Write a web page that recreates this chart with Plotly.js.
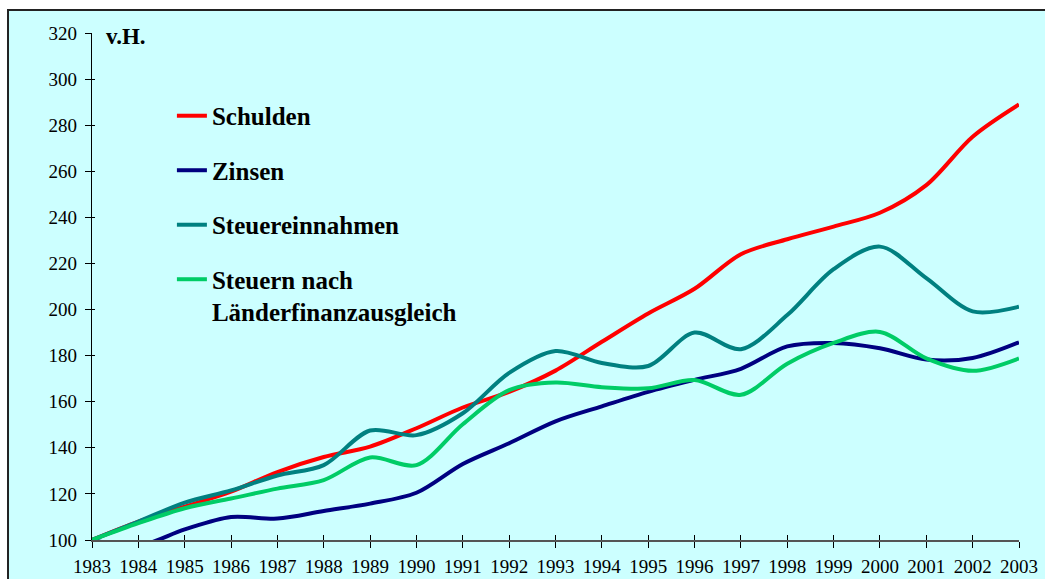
<!DOCTYPE html>
<html>
<head>
<meta charset="utf-8">
<script src="https://cdn.plot.ly/plotly-3.0.1.min.js"></script>
<style>html,body{margin:0;padding:0;background:#fff;}#chart{width:1045px;height:579px;}</style>
</head>
<body>
<div id="chart"></div>
<script>
const years = [1983,1984,1985,1986,1987,1988,1989,1990,1991,1992,1993,1994,1995,1996,1997,1998,1999,2000,2001,2002,2003];
const schulden = [100,108,114.5,121,129.5,136,140.5,148.5,157.5,164.3,173.5,186,198.3,209,224,230.5,236,242,254,275,289];
const zinsen = [100,97.5,104.6,110,109.3,112.6,115.8,120.5,133,142,151.5,158,164.3,169.5,174.3,184,185.5,183.2,178.3,179,185.8];
const steuereinnahmen = [100,108,116.2,121.5,128,132.5,147.5,145.5,155,172.5,182,176.8,175.5,190,182.8,197.6,217.5,227.3,213.6,199.2,201.2];
const steuernLFA = [100,107.3,113.8,118,122.3,126,135.8,132.5,150.2,165,168.3,166.3,165.8,169.4,163,176.5,185.5,190.3,178.8,173.4,178.8];
const names = ['Schulden','Zinsen','Steuereinnahmen','Steuern nach<br>Länderfinanzausgleich'];
const colors = ['#FF0000','#000080','#008080','#00CC66'];
const yTicks = [100,120,140,160,180,200,220,240,260,280,300,320];

const series = [schulden, zinsen, steuereinnahmen, steuernLFA];
const traces = series.map((s,i)=>({
  x: years, y: s, type:'scatter', mode:'lines', name: names[i],
  legendgroup: 'g'+i,
  line:{color:colors[i], width:4, shape:'spline', smoothing:0.9}
}));
// invisible trace to show the inner half of the crossing tick marks
traces.push({x:[years[0]], y:[yTicks[0]], xaxis:'x2', yaxis:'y2', mode:'markers', marker:{opacity:0}, showlegend:false, hoverinfo:'skip'});

const font = {family:'"Liberation Serif", "Times New Roman", serif', color:'#000'};
const layout = {
  width:1045, height:579,
  margin:{l:92, r:26, t:33, b:39},
  paper_bgcolor:'#FFFFFF',
  plot_bgcolor:'rgba(0,0,0,0)',
  font: Object.assign({size:19}, font),
  showlegend:true,
  legend:{
    x:0.0862, y:0.8817, xanchor:'left', yanchor:'top',
    bgcolor:'rgba(0,0,0,0)',
    font:Object.assign({size:25, weight:'bold'}, font),
    tracegroupgap:19, traceorder:'grouped', valign:'top',
    itemwidth:30
  },
  xaxis:{
    range:[1983,2003], tickmode:'array', tickvals:years, ticktext:years.map(String),
    showgrid:false, zeroline:false, showline:true, linecolor:'#555555', linewidth:1.5,
    ticks:'outside', ticklen:6, tickcolor:'#000', tickwidth:1, ticklabelstandoff:3,
    tickfont:Object.assign({size:19}, font), fixedrange:true
  },
  yaxis:{
    range:[100,320], tickmode:'array', tickvals:yTicks,
    showgrid:false, zeroline:false, showline:true, linecolor:'#000', linewidth:1.2,
    ticks:'outside', ticklen:6, tickcolor:'#000', tickwidth:1, ticklabelstandoff:4,
    tickfont:Object.assign({size:19}, font), fixedrange:true
  },
  xaxis2:{overlaying:'x', range:[1983,2003], tickmode:'array', tickvals:years, showticklabels:false,
    showgrid:false, zeroline:false, showline:false, ticks:'inside', ticklen:5, tickcolor:'#000', anchor:'y2'},
  yaxis2:{overlaying:'y', range:[100,320], tickmode:'array', tickvals:yTicks, showticklabels:false,
    showgrid:false, zeroline:false, showline:false, ticks:'inside', ticklen:3, tickcolor:'#000', anchor:'x2'},
  shapes:[{
    type:'rect', xref:'paper', yref:'paper', layer:'below',
    x0:-0.0906, x1:1.1, y0:-0.2, y1:1.0454,
    fillcolor:'#CCFFFF', line:{color:'#222', width:2}
  }],
  annotations:[{
    xref:'paper', yref:'paper', x:0.0129, y:0.994, xanchor:'left', yanchor:'middle',
    text:'<b>v.H.</b>', showarrow:false, font:Object.assign({size:23}, font)
  }]
};
Plotly.newPlot('chart', traces, layout, {displayModeBar:false, staticPlot:true});
</script>
</body>
</html>
